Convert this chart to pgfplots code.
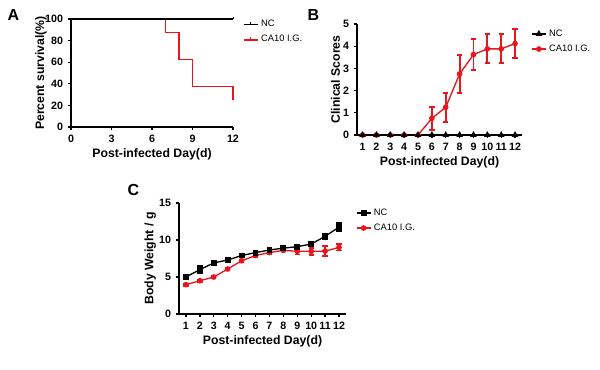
\documentclass[border=0pt]{standalone}
\usepackage{pgfplots}
\pgfplotsset{compat=1.18}
\usepackage{fontspec}
\setmainfont{Liberation Sans}
\definecolor{myred}{RGB}{232,22,28}
\begin{document}
\begin{tikzpicture}[x=1pt,y=1pt]
\useasboundingbox (0pt,0pt) rectangle (450pt,276.75pt);
\pgfplotsset{
 every axis/.append style={
  scale only axis, axis lines=left, axis line style={line width=1.1pt,-},
  tick align=outside, major tick style={line width=1pt,black}, major tick length=2.5pt,
  ticklabel style={font=\bfseries\fontsize{8}{9}\selectfont},
  /pgf/number format/assume math mode=true,
  label style={font=\bfseries\fontsize{9.2}{10}\selectfont},
  xlabel style={yshift=2pt},
  legend style={draw=none, fill=none, font=\fontsize{7}{8}\selectfont, anchor=north west, legend cell align=left, row sep=1pt},
  legend image code/.code={\draw[mark repeat=2,mark phase=2,#1] plot coordinates {(0pt,0pt) (5.25pt,0pt) (10.5pt,0pt)};},
  clip=false,
  every axis plot/.append style={line width=1pt},
 },
 ebar/.style={error bars/.cd, y dir=both, y explicit,
   error bar style={line width=1.4pt},
   error mark options={rotate=90, mark size=2pt, line width=1.4pt}},
}
% ---------------- Panel A ----------------
\begin{axis}[at={(53.25pt,181.5pt)}, anchor=south west, width=121.5pt, height=81pt,
  xmin=0, xmax=12, ymin=0, ymax=100,
  xtick={0,3,6,9,12}, ytick={0,20,40,60,80,100},
  xlabel={Post-infected Day(d)}, ylabel={Percent survival(\%)},
  ylabel style={yshift=-8pt},
  legend style={at={(1.035,1.04)}},
  legend image code/.code={\draw[#1] (0pt,0pt) -- (10.5pt,0pt); \draw[#1, line width=0.6pt] (5.25pt,0pt) -- (5.25pt,1.8pt);}]
\addlegendimage{black, line width=1pt}
\addlegendentry{NC}
\addlegendimage{myred, line width=1.2pt}
\addlegendentry{CA10 I.G.}
\addplot[myred, line width=1.1pt, const plot, forget plot] coordinates {(0,100) (7,87.5) (8,62.5) (9,37.5) (12,37.5) (12,25)};
\addplot[black, forget plot] coordinates {(0,100) (12,100)};
\addplot[black, line width=0.6pt, forget plot] coordinates {(12,100) (12,102)};
\end{axis}
% ---------------- Panel B ----------------
\begin{axis}[at={(267.75pt,175.5pt)}, anchor=south west, width=123.75pt, height=83.25pt,
  xmin=0.6, xmax=12.5, ymin=0, ymax=5,
  xtick={1,...,12}, ytick={0,1,2,3,4,5},
  xlabel={Post-infected Day(d)}, ylabel={Clinical Scores},
  ylabel style={yshift=-4.5pt},
  legend style={at={(1.03,1.0)}}, reverse legend]
\addplot[myred, mark=*, mark size=1.6pt, ebar]
 coordinates {(1,0) (2,0) (3,0) (4,0) (5,0)
 (6,0.75) +- (0,0.52) (7,1.25) +- (0,0.66) (8,2.75) +- (0,0.84) (9,3.62) +- (0,0.7)
 (10,3.88) +- (0,0.65) (11,3.88) +- (0,0.65) (12,4.12) +- (0,0.65)};
\addlegendentry{CA10 I.G.}
\addplot[black, mark=triangle*, mark size=1.9pt] coordinates {(1,0) (2,0) (3,0) (4,0) (5,0) (6,0) (7,0) (8,0) (9,0) (10,0) (11,0) (12,0)};
\addlegendentry{NC}
\end{axis}
% ---------------- Panel C ----------------
\begin{axis}[at={(134.25pt,41.25pt)}, anchor=south west, width=125.25pt, height=83.25pt,
  xmin=0.5, xmax=12.5, ymin=0, ymax=15,
  xtick={1,...,12}, ytick={0,5,10,15},
  xlabel={Post-infected Day(d)}, ylabel={Body Weight / g},
  ylabel style={yshift=-4.5pt},
  legend style={at={(1.034,1.0)}}, reverse legend]
\addplot[myred, mark=*, mark size=1.6pt, ebar]
 coordinates {(1,3.96) +- (0,0.15) (2,4.5) +- (0,0.15) (3,5.0) +- (0,0.15) (4,6.08) +- (0,0.15)
 (5,7.2) +- (0,0.15) (6,7.9) +- (0,0.15) (7,8.3) +- (0,0.15) (8,8.6) +- (0,0.15)
 (9,8.47) +- (0,0.42) (10,8.47) +- (0,0.45) (11,8.5) +- (0,0.7) (12,9.0) +- (0,0.42)};
\addlegendentry{CA10 I.G.}
\addplot[black, mark=square*, mark size=1.7pt, ebar]
 coordinates {(1,5.0) +- (0,0.3) (2,6.0) +- (0,0.45) (3,6.9) +- (0,0.3) (4,7.3) +- (0,0.3)
 (5,7.9) +- (0,0.2) (6,8.3) +- (0,0.2) (7,8.65) +- (0,0.2) (8,8.9) +- (0,0.25)
 (9,9.1) +- (0,0.3) (10,9.45) +- (0,0.3) (11,10.5) +- (0,0.35) (12,11.75) +- (0,0.5)};
\addlegendentry{NC}
\end{axis}
\node[font=\bfseries\fontsize{12}{13}\selectfont] at (10pt,265.5pt) {A};
\node[font=\bfseries\fontsize{12}{13}\selectfont] at (235pt,265.5pt) {B};
\node[font=\bfseries\fontsize{12}{13}\selectfont] at (100pt,134.25pt) {C};
\end{tikzpicture}
\end{document}
